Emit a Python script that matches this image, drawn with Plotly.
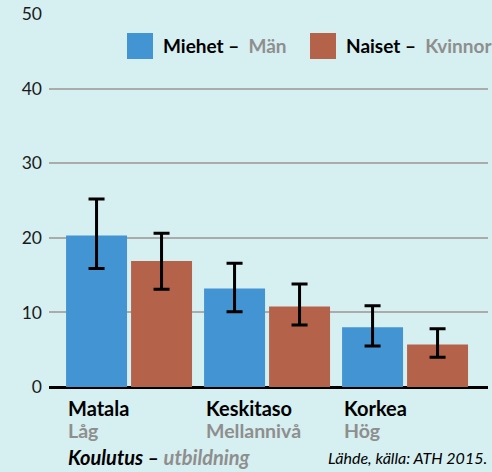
import plotly.graph_objects as go

categories = ["Matala", "Keskitaso", "Korkea"]
categories_sv = ["Låg", "Mellannivå", "Hög"]
men = [20.3, 13.2, 8.0]
men_hi = [25.2, 16.6, 10.9]
men_lo = [15.9, 10.1, 5.5]
women = [16.9, 10.8, 5.7]
women_hi = [20.6, 13.8, 7.8]
women_lo = [13.1, 8.3, 4.0]
y_ticks = [0, 10, 20, 30, 40, 50]

BG = "#D6EFF0"
BLUE = "#4394D2"
RED = "#B5624A"
GRAY = "#8E8E8E"
FONT = "Lato"

def err(vals, hi, lo):
    return dict(type="data", symmetric=False,
                array=[h - v for h, v in zip(hi, vals)],
                arrayminus=[v - l for v, l in zip(vals, lo)],
                color="black", thickness=3, width=8)

fig = go.Figure()
fig.add_bar(x=categories, y=men, name="Miehet – Män", marker_color=BLUE,
            marker_line_width=0, error_y=err(men, men_hi, men_lo), showlegend=False)
fig.add_bar(x=categories, y=women, name="Naiset – Kvinnor", marker_color=RED,
            marker_line_width=0, error_y=err(women, women_hi, women_lo), showlegend=False)

fig.update_layout(
    width=492, height=472,
    paper_bgcolor=BG, plot_bgcolor=BG,
    margin=dict(l=49, r=4, t=14, b=85),
    barmode="group", bargap=0.058, bargroupgap=0.062,
    font=dict(family=FONT, color="#1a1a1a"),
    xaxis=dict(range=[-0.58, 2.601], showticklabels=False, showgrid=False,
               zeroline=False, showline=False, fixedrange=True),
    yaxis=dict(range=[0, 50], tickvals=y_ticks, ticktext=[str(v) for v in y_ticks],
               showgrid=True, gridcolor="#ABABAB", gridwidth=1.5,
               zeroline=True, zerolinecolor="black", zerolinewidth=2.5,
               tickfont=dict(size=17.5, color="#1a1a1a", family=FONT),
               ticklabelstandoff=6, showline=False, fixedrange=True),
)

anns = []
for c, sv in zip(categories, categories_sv):
    anns.append(dict(x=c, y=0, xref="x", yref="y", xanchor="left", yanchor="middle",
                     xshift=-63, yshift=-21, showarrow=False,
                     text=f"<b>{c}</b>", font=dict(size=20, color="black", family=FONT)))
    anns.append(dict(x=c, y=0, xref="x", yref="y", xanchor="left", yanchor="middle",
                     xshift=-63, yshift=-43, showarrow=False,
                     text=f"<b>{sv}</b>", font=dict(size=19.5, color=GRAY, family=FONT)))
anns.append(dict(x=categories[0], y=0, xref="x", yref="y", xanchor="left", yanchor="middle",
                 xshift=-63, yshift=-70, showarrow=False,
                 text=f"<b><i>Koulutus – <span style='color:{GRAY}'>utbildning</span></i></b>",
                 font=dict(size=20, color="black", family=FONT)))
anns.append(dict(x=1, y=0, xref="paper", yref="y", xanchor="right", yanchor="middle",
                 xshift=1, yshift=-70, showarrow=False,
                 text="<i>Lähde, källa: ATH 2015.</i>",
                 font=dict(size=16, color="black", family=FONT)))

# manual legend
def px_x(p):
    return (p - 49) / 439
def px_y(p):
    return (387 - p) / 373

legend_items = [("Miehet –", "Män", BLUE, 127), ("Naiset –", "Kvinnor", RED, 310)]
shapes = []
for bold, sub, col, x0 in legend_items:
    shapes.append(dict(type="rect", xref="paper", yref="paper",
                       x0=px_x(x0), x1=px_x(x0 + 26), y0=px_y(59), y1=px_y(33),
                       fillcolor=col, line_width=0))
    anns.append(dict(x=px_x(x0 + 34), y=px_y(46), xref="paper", yref="paper",
                     xanchor="left", yanchor="middle", showarrow=False,
                     text=f"<b>{bold}<span style='color:{GRAY}'>  {sub}</span></b>",
                     font=dict(size=19, color="black", family=FONT)))

fig.update_layout(annotations=anns, shapes=shapes)
fig.write_html("out.html", config={"displayModeBar": False},
               post_script="document.body.style.margin='0';document.body.style.overflow='hidden';")
